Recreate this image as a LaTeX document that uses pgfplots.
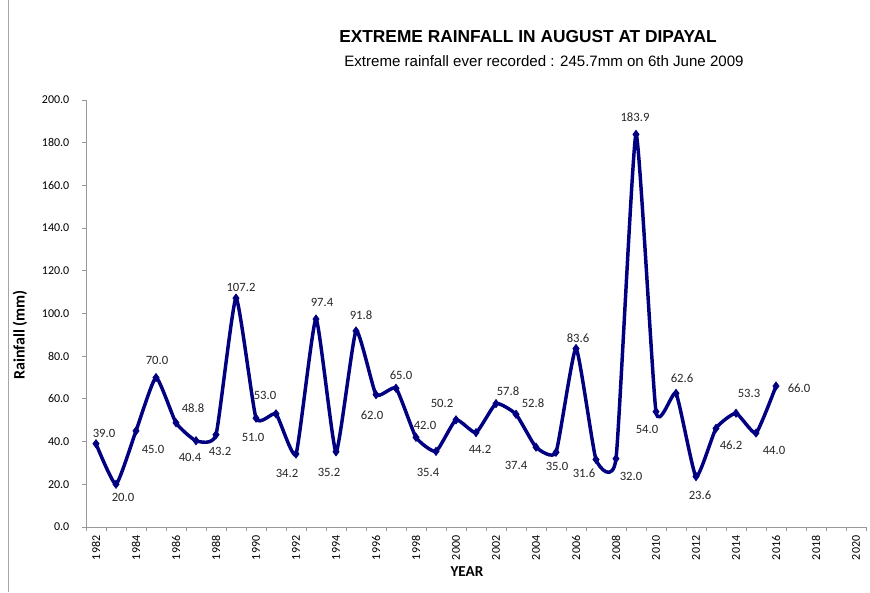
\documentclass[border=0pt]{standalone}
\usepackage{fontspec}
\setmainfont{Carlito}
\newfontfamily\arialf{Liberation Sans}
\usepackage{pgfplots}
\pgfplotsset{compat=1.18}
\usepackage{pgfplotstable}
\definecolor{navyline}{RGB}{0,0,128}

\pgfplotstableread{
year val dx dy
1982 39.0 8 -10
1983 20.0 7 13
1984 45.0 17 19
1985 70.0 1 -17
1986 48.8 17 -15
1987 40.4 -6 17
1988 43.2 4 17
1989 107.2 5 -11
1990 51.0 -3 19
1991 53.0 -11 -18
1992 34.2 -9 19
1993 97.4 6 -17
1994 35.2 -7 21
1995 91.8 5 -16
1996 62.0 -4 21
1997 65.0 5 -13
1998 42.0 9 -12
1999 35.4 -8 21
2000 50.2 -14 -16
2001 44.2 4 17
2002 57.8 12 -12
2003 52.8 17 -11
2004 37.4 -20 18
2005 35.0 1 14
2006 83.6 2 -10
2007 31.6 -12 14
2008 32.0 15 18
2009 183.9 -1 -17
2010 54.0 -9 18
2011 62.6 6 -15
2012 23.6 4 19
2013 46.2 15 17
2014 53.3 13 -20
2015 44.0 18 17
2016 66.0 23 2
}\datatable

\begin{document}
\begin{tikzpicture}
\useasboundingbox (0,0) rectangle (652.5pt,444pt);
\draw[gray!70, line width=0.75pt] (6pt,0) -- (6pt,444pt);
\begin{axis}[
  at={(64.5pt,48.75pt)}, anchor=south west,
  scale only axis, width=585pt, height=320.25pt,
  xmin=1981.5, xmax=2020.5, ymin=0, ymax=200,
  axis x line*=bottom, axis y line*=left,
  axis line style={-, draw=gray!80, line width=0.6pt},
  /pgf/number format/assume math mode=true,
  xtick={1982,1984,...,2020},
  minor xtick={1981.5,1982.5,...,2020.5},
  major x tick style={draw=none},
  tick style={draw=gray!80, line width=0.6pt},
  tick align=outside, major tick length=3pt, minor tick length=3pt,
  ytick={0,20,...,200},
  x tick label style={rotate=90, anchor=east, font=\fontsize{9}{10}\selectfont, /pgf/number format/1000 sep={}},
  y tick label style={font=\fontsize{9}{10}\selectfont, xshift=-6pt, /pgf/number format/.cd, fixed, fixed zerofill, precision=1},
  clip=false,
]
\addplot[navyline, line width=2.6pt, smooth, tension=0.28,
  mark=diamond*, mark size=3.1pt, mark options={solid, fill=navyline, line width=0.5pt},
  point meta=y,
  nodes near coords={\pgfmathprintnumber[fixed,fixed zerofill,precision=1]{\pgfplotspointmeta}},
  visualization depends on={0.75*\thisrow{dx} \as \dx},
  visualization depends on={-0.75*\thisrow{dy} \as \dy},
  every node near coord/.append style={anchor=center, xshift=\dx pt, yshift=\dy pt, text=black!85, font=\fontsize{9.5}{10}\selectfont, inner sep=0pt},
] table[x=year, y=val] {\datatable};
\end{axis}
\node[font=\arialf\bfseries\fontsize{13}{15}\selectfont] at ({528*0.75pt},{(592-37)*0.75pt}) {EXTREME RAINFALL IN AUGUST AT DIPAYAL};
\node[font=\arialf\fontsize{11.3}{13}\selectfont] at ({544*0.75pt},{(592-61)*0.75pt}) {Extreme rainfall ever recorded : 245.7mm on 6th June 2009};
\node[font=\bfseries\fontsize{12}{14}\selectfont, rotate=90] at ({20*0.75pt},{(592-335)*0.75pt}) {Rainfall (mm)};
\node[font=\bfseries\fontsize{11.4}{13}\selectfont] at ({467*0.75pt},{(592-572)*0.75pt}) {YEAR};
\end{tikzpicture}
\end{document}
